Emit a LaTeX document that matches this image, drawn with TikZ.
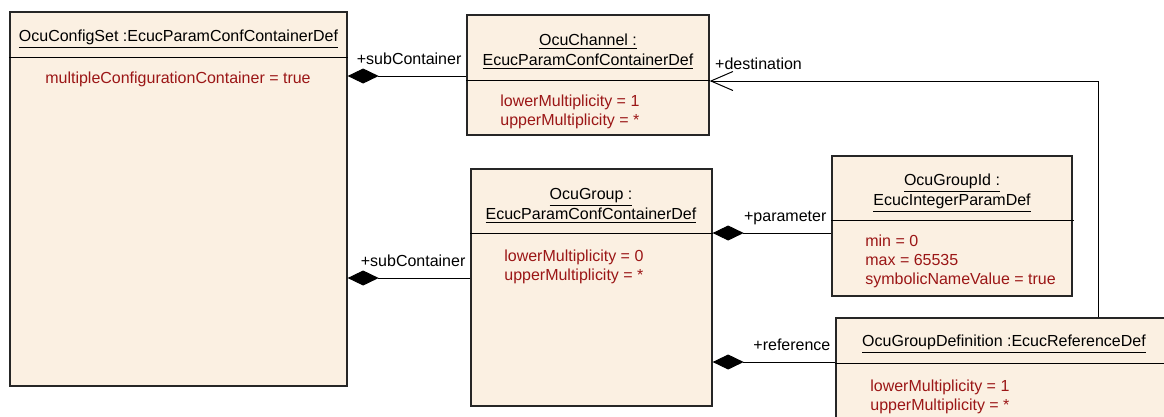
\documentclass[tikz,border=0pt]{standalone}
\usepackage{fontspec}
\setmainfont{Liberation Sans}
\usetikzlibrary{arrows.meta,fit}
\definecolor{classfill}{RGB}{251,240,226}
\definecolor{attrred}{RGB}{155,22,22}
\tikzset{
  classbox/.style={draw=black!85,line width=0.26mm,fill=classfill,inner sep=0pt},
  title/.style={align=center,inner sep=0pt},
  attr/.style={align=left,anchor=north west,inner sep=0pt,text=attrred,
    font=\fontsize{9.1}{10.9}\selectfont},
  role/.style={anchor=base east,inner sep=0pt,xshift=-0.9mm,yshift=2.4mm},
  roleright/.style={anchor=base west,inner sep=0pt,xshift=1mm,yshift=2.4mm},
  comp/.style={line width=0.2mm,{Diamond[length=6.2mm,width=3mm]}-},
  nav/.style={line width=0.2mm,-{Straight Barb[length=4.4mm,width=3.8mm]}}
}
\begin{document}
\begin{tikzpicture}[x=0.2mm,y=-0.2mm,font=\fontsize{9.1}{11.4}\selectfont]
        \useasboundingbox (0,0) rectangle (1164,416) ;
        \clip (0,0) rectangle (1164,416) ;
        % class boxes
        \node[classbox,fit={(10,12) (347,386)}] (set) {} ;
        \node[classbox,fit={(467,15) (709,135)}] (channel) {} ;
        \node[classbox,fit={(471,169) (712,406)}] (group) {} ;
        \node[classbox,fit={(832,156) (1072,296)}] (groupid) {} ;
        \node[classbox,fit={(836,318) (1200,450)}] (groupdef) {} ;
        % compartment lines
        \draw[line width=0.2mm] (set.west |- 0,57) -- (348,57) ;
        \draw[line width=0.2mm] (channel.west |- 0,80.5) -- (channel.east |- 0,80.5) ;
        \draw[line width=0.2mm] (group.west |- 0,233) -- (group.east |- 0,233) ;
        \draw[line width=0.2mm] (groupid.west |- 0,220) -- (1074,220) ;
        \draw[line width=0.2mm] (groupdef.west |- 0,363) -- (groupdef.east |- 0,363) ;
        % names
        \node[title,anchor=base] (setname) at (178.5,41.5)
        {\underline{OcuConfigSet :EcucParamConfContainerDef}} ;
        \node[title,anchor=north] (channelname) at (588,33.5)
        {\underline{OcuChannel :}\\\underline{EcucParamConfContainerDef}} ;
        \node[title,anchor=north] (groupname) at (591,187.8)
        {\underline{OcuGroup :}\\\underline{EcucParamConfContainerDef}} ;
        \node[title,anchor=north] (groupidname) at (952,173.5)
        {\underline{OcuGroupId :}\\\underline{EcucIntegerParamDef}} ;
        \node[title,anchor=base] (groupdefname) at (1004,346.7)
        {\underline{OcuGroupDefinition :EcucReferenceDef}} ;
        % attributes
        \node[attr,anchor=base] (setattr) at (178,83)
        {multipleConfigurationContainer = true} ;
        \node[attr] (channelattr) at (500,94.5)
        {lowerMultiplicity = 1\\upperMultiplicity = *} ;
        \node[attr] (groupattr) at (504,249.2)
        {lowerMultiplicity = 0\\upperMultiplicity = *} ;
        \node[attr] (groupidattr) at (865,234.5)
        {min = 0\\max = 65535\\symbolicNameValue = true} ;
        \node[attr] (groupdefattr) at (870,379.2)
        {lowerMultiplicity = 1\\upperMultiplicity = *} ;
        % connectors
        \draw[comp] (set.east |- 0,76) -- (channel.west |- 0,76)
        node[role] {+subContainer} ;
        \draw[comp] (set.east |- 0,278) -- (group.west |- 0,278)
        node[role] {+subContainer} ;
        \draw[comp] (group.east |- 0,233) -- (groupid.west |- 0,233)
        node[role] {+parameter} ;
        \draw[comp] (group.east |- 0,362) -- (groupdef.west |- 0,362)
        node[role] {+reference} ;
        \coordinate (bend) at (1098,81) ;
        \draw[nav] (groupdef.north -| bend) |- (channel.east |- bend)
        node[roleright] {+destination} ;
\end{tikzpicture}
\end{document}
